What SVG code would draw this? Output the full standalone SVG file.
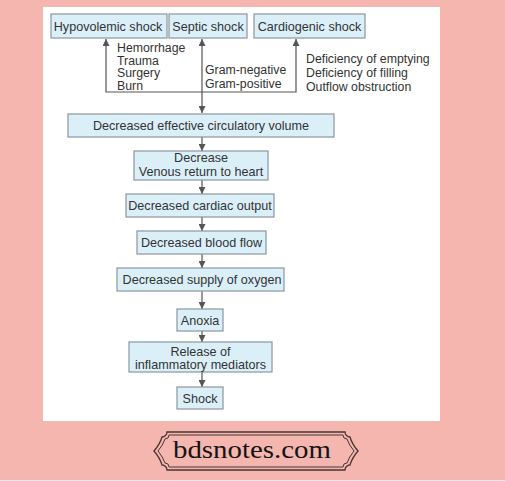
<svg xmlns="http://www.w3.org/2000/svg" width="505" height="481" viewBox="0 0 505 481">
<style>
.box{fill:#dbeff9;stroke:#8a979e;stroke-width:1.2}
.t{font-family:"Liberation Sans",Arial,sans-serif;font-size:12.6px;fill:#333;text-anchor:middle}
.l{font-family:"Liberation Sans",Arial,sans-serif;font-size:12.3px;fill:#333}
.c{stroke:#555;stroke-width:1.2;fill:none}
</style>
<defs>
<marker id="ah" viewBox="0 0 10 10" refX="10" refY="5" markerWidth="7" markerHeight="7" markerUnits="userSpaceOnUse" orient="auto-start-reverse">
<path d="M0,0 L10,5 L0,10 Z" fill="#555"/>
</marker>
</defs>
<rect x="0" y="0" width="505" height="481" fill="#f4b6ae"/>
<rect x="0" y="480" width="505" height="1" fill="#e6e6ec"/>
<rect x="43" y="7" width="397" height="414" fill="#ffffff"/>

<g id="connectors">
<polyline class="c" points="296,39 296,92 106,92 106,39" marker-start="url(#ah)" marker-end="url(#ah)"/>
<line class="c" x1="202" y1="39" x2="202" y2="113" marker-start="url(#ah)" marker-end="url(#ah)"/>
<line class="c" x1="202" y1="137" x2="202" y2="151" marker-end="url(#ah)"/>
<line class="c" x1="202" y1="180" x2="202" y2="194" marker-end="url(#ah)"/>
<line class="c" x1="202" y1="217" x2="202" y2="231" marker-end="url(#ah)"/>
<line class="c" x1="202" y1="254" x2="202" y2="268" marker-end="url(#ah)"/>
<line class="c" x1="202" y1="291" x2="202" y2="309" marker-end="url(#ah)"/>
<line class="c" x1="202" y1="331" x2="202" y2="342" marker-end="url(#ah)"/>
<line class="c" x1="202" y1="372" x2="202" y2="387" marker-end="url(#ah)"/>
</g>

<g id="hypovolemic">
<rect class="box" x="51" y="14" width="116" height="24"/>
<text class="t" x="108" y="30.5">Hypovolemic shock</text>
</g>
<g id="septic">
<rect class="box" x="169" y="14" width="78" height="24"/>
<text class="t" x="208" y="30.5">Septic shock</text>
</g>
<g id="cardiogenic">
<rect class="box" x="254" y="14" width="111" height="24"/>
<text class="t" x="309.5" y="30.5">Cardiogenic shock</text>
</g>

<g id="hypo-causes">
<text class="l" x="117" y="52">Hemorrhage</text>
<text class="l" x="117" y="64.5">Trauma</text>
<text class="l" x="117" y="77">Surgery</text>
<text class="l" x="117" y="89.5">Burn</text>
</g>
<g id="septic-causes">
<text class="l" x="205" y="74">Gram-negative</text>
<text class="l" x="205" y="87.5">Gram-positive</text>
</g>
<g id="cardio-causes">
<text class="l" x="306" y="63">Deficiency of emptying</text>
<text class="l" x="306" y="77">Deficiency of filling</text>
<text class="l" x="306" y="91">Outflow obstruction</text>
</g>

<g id="decv">
<rect class="box" x="68" y="114" width="266" height="23"/>
<text class="t" x="201" y="130">Decreased effective circulatory volume</text>
</g>
<g id="venous">
<rect class="box" x="134" y="151" width="134" height="29"/>
<text class="t" x="201" y="162">Decrease</text>
<text class="t" x="201" y="176">Venous return to heart</text>
</g>
<g id="cardiac">
<rect class="box" x="126" y="194" width="148" height="23"/>
<text class="t" x="200" y="210">Decreased cardiac output</text>
</g>
<g id="bloodflow">
<rect class="box" x="137" y="231" width="129" height="23"/>
<text class="t" x="201.5" y="247">Decreased blood flow</text>
</g>
<g id="oxygen">
<rect class="box" x="117" y="268" width="167" height="23"/>
<text class="t" x="202" y="284">Decreased supply of oxygen</text>
</g>
<g id="anoxia">
<rect class="box" x="177" y="309" width="46" height="22"/>
<text class="t" x="200" y="324.5">Anoxia</text>
</g>
<g id="release">
<rect class="box" x="129" y="342" width="143" height="30"/>
<text class="t" x="200.5" y="355.5">Release of</text>
<text class="t" x="200.5" y="369">inflammatory mediators</text>
</g>
<g id="shock">
<rect class="box" x="177" y="387" width="46" height="22"/>
<text class="t" x="200" y="402.5">Shock</text>
</g>

<g id="logo">
<path d="M167,432 H345 A5,5 0 0 0 350,437 Q352,444 358,451 Q352,458 350,465 A5,5 0 0 0 345,470 H167 A5,5 0 0 0 162,465 Q160,458 154,451 Q160,444 162,437 A5,5 0 0 0 167,432 Z" fill="none" stroke="#4a3434" stroke-width="1.3"/>
<path d="M169,435 H343 A4,4 0 0 0 347,439 Q349,445 354,451 Q349,457 347,463 A4,4 0 0 0 343,467 H169 A4,4 0 0 0 165,463 Q163,457 158,451 Q163,445 165,439 A4,4 0 0 0 169,435 Z" fill="none" stroke="#4a3434" stroke-width="1"/>
<text x="252" y="458" font-family="'Liberation Serif','Times New Roman',serif" font-size="25" fill="#141414" text-anchor="middle" textLength="158" lengthAdjust="spacingAndGlyphs">bdsnotes.com</text>
</g>
</svg>
